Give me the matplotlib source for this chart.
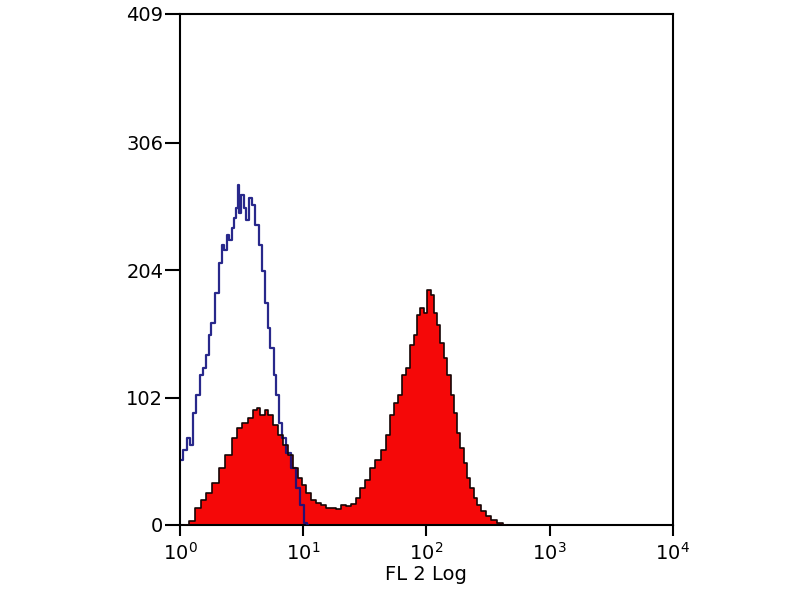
"""FL2 log histogram: isotype control (blue outline) vs stained sample (red fill)."""
import matplotlib
matplotlib.use("Agg")
import matplotlib.pyplot as plt
from matplotlib.ticker import LogLocator, FixedLocator, NullLocator

# ----------------------------------------------------------------------
# Data (FL2 channel value, event count)
# ----------------------------------------------------------------------
control_fl2 = [1.03, 1.10, 1.16, 1.24, 1.32, 1.40, 1.51, 1.58, 1.66, 1.75,
               1.85, 2.00, 2.11, 2.24, 2.35, 2.46, 2.58, 2.70, 2.80, 2.91,
               2.96, 3.05, 3.19, 3.38, 3.55, 3.71, 3.92, 4.23, 4.47, 4.73,
               5.10, 5.19, 5.60, 5.92, 6.15, 6.50, 6.88, 7.55, 8.29, 9.10,
               9.82, 10.4, 11.0]
control_cnt = [52, 60, 70, 64, 90, 104, 120, 126, 136, 152,
               162, 186, 210, 224, 220, 232, 228, 238, 246, 254,
               272, 250, 264, 254, 244, 262, 256, 240, 224, 203,
               178, 158, 142, 120, 104, 82, 70, 58, 46, 30,
               16, 2, 0]

stained_fl2 = [1.10, 1.25, 1.40, 1.54, 1.69, 1.93, 2.19, 2.46, 2.80, 2.96,
               3.38, 3.71, 4.07, 4.31, 4.64, 5.10, 5.35, 5.92, 6.50, 7.15,
               7.83, 8.58, 9.40, 10.0, 11.0, 12.1, 13.2, 14.6, 16.0, 17.5,
               19.3, 21.1, 23.2, 25.5, 28.0, 30.2, 33.1, 36.4, 40.7, 44.7,
               49.1, 52.9, 55.9, 61.5, 65.0, 71.4, 76.9, 81.4, 86.1, 92.8,
               98.2, 104, 112, 118, 125, 135, 143, 151, 163, 172,
               182, 196, 208, 219, 237, 250, 265, 290, 319, 351,
               400, 439]
stained_cnt = [0, 3, 14, 20, 26, 34, 46, 56, 70, 78,
               82, 86, 92, 94, 88, 92, 88, 80, 72, 64,
               56, 46, 38, 32, 26, 20, 18, 16, 14, 14,
               13, 16, 15, 17, 22, 30, 36, 46, 52, 60,
               72, 88, 98, 104, 120, 126, 144, 152, 168, 174,
               170, 188, 184, 170, 160, 146, 134, 120, 104, 90,
               74, 62, 50, 38, 30, 22, 16, 11, 7, 4,
               2, 0]

y_ticks = [0, 102, 204, 306, 409]

# ----------------------------------------------------------------------
# Figure
# ----------------------------------------------------------------------
fig = plt.figure(figsize=(8, 6), dpi=100)
ax = fig.add_axes([0.225, 0.125, 0.616, 0.8517])

ax.fill_between(stained_fl2, stained_cnt, step="mid",
                color="#f50808", linewidth=0, zorder=2)
ax.step(control_fl2, control_cnt, where="mid",
        color="#10107e", linewidth=1.6, alpha=0.9, zorder=3)
ax.step(stained_fl2, stained_cnt, where="mid",
        color="#150505", linewidth=1.2, zorder=4)

ax.set_xscale("log")
ax.set_xlim(1, 1e4)
ax.set_ylim(0, 409)

ax.xaxis.set_major_locator(LogLocator(base=10, numticks=10))
ax.xaxis.set_minor_locator(NullLocator())
ax.yaxis.set_major_locator(FixedLocator(y_ticks))
ax.set_yticklabels([str(v) for v in y_ticks])

ax.tick_params(axis="y", direction="out", length=11, width=1.5,
               labelsize=14, pad=1)
ax.tick_params(axis="x", direction="out", length=8, width=1.5,
               labelsize=14, pad=4)
for sp in ax.spines.values():
    sp.set_linewidth(1.5)

ax.set_xlabel("FL 2 Log", fontsize=14, labelpad=1)

fig.savefig("out.png", dpi=100)
